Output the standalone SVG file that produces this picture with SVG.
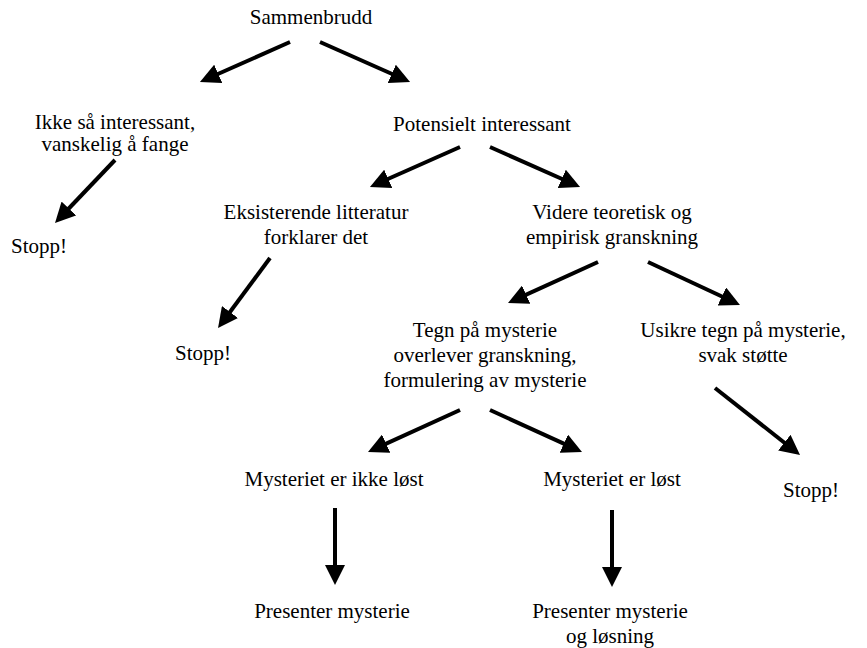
<svg xmlns="http://www.w3.org/2000/svg" width="867" height="648" viewBox="0 0 867 648">
<defs>
<marker id="ah" viewBox="0 0 20 20" refX="9" refY="10" markerWidth="20" markerHeight="20" markerUnits="userSpaceOnUse" orient="auto">
<path d="M0,0 L20,10 L0,20 z" fill="#000"/>
</marker>
<style>
text{font-size:21px;fill:#000;text-anchor:middle}
.c line{stroke:#000;stroke-width:4;marker-end:url(#ah)}
</style>
</defs>
<rect width="867" height="648" fill="#fff"/>
<g class="c" id="connectors">
<line x1="290" y1="42" x2="210" y2="77.5"/>
<line x1="320" y1="42" x2="400" y2="77.5"/>
<line x1="115" y1="160" x2="62.6" y2="215"/>
<line x1="460" y1="147" x2="380" y2="182.5"/>
<line x1="490" y1="147" x2="570" y2="182.5"/>
<line x1="270" y1="258" x2="224.6" y2="319.2"/>
<line x1="598" y1="262" x2="518" y2="298.4"/>
<line x1="648" y1="262" x2="730" y2="300.3"/>
<line x1="715" y1="388" x2="791.4" y2="448.2"/>
<line x1="460" y1="410" x2="378" y2="447.4"/>
<line x1="490" y1="410" x2="572" y2="447.4"/>
<line x1="335" y1="508" x2="335" y2="574"/>
<line x1="612" y1="510" x2="612" y2="576"/>
</g>
<g font-family="'Liberation Serif', 'Times New Roman', 'DejaVu Serif', serif">
<g id="n-sammenbrudd"><text x="311" y="24">Sammenbrudd</text></g>
<g id="n-ikke"><text x="115" y="129">Ikke så interessant,</text><text x="115" y="151">vanskelig å fange</text></g>
<g id="n-potensielt"><text x="482" y="131">Potensielt interessant</text></g>
<g id="n-stopp1"><text x="39" y="253">Stopp!</text></g>
<g id="n-eksisterende"><text x="316" y="219">Eksisterende litteratur</text><text x="316" y="244">forklarer det</text></g>
<g id="n-videre"><text x="612" y="219">Videre teoretisk og</text><text x="612" y="244">empirisk granskning</text></g>
<g id="n-stopp2"><text x="203" y="360">Stopp!</text></g>
<g id="n-tegn"><text x="485" y="337">Tegn på mysterie</text><text x="485" y="362">overlever granskning,</text><text x="485" y="387">formulering av mysterie</text></g>
<g id="n-usikre"><text x="743" y="337">Usikre tegn på mysterie,</text><text x="743" y="362">svak støtte</text></g>
<g id="n-stopp3"><text x="811" y="497">Stopp!</text></g>
<g id="n-ikkelost"><text x="334" y="486">Mysteriet er ikke løst</text></g>
<g id="n-lost"><text x="612" y="486">Mysteriet er løst</text></g>
<g id="n-presenter1"><text x="332" y="618">Presenter mysterie</text></g>
<g id="n-presenter2"><text x="610" y="618">Presenter mysterie</text><text x="610" y="643">og løsning</text></g>
</g>
</svg>
